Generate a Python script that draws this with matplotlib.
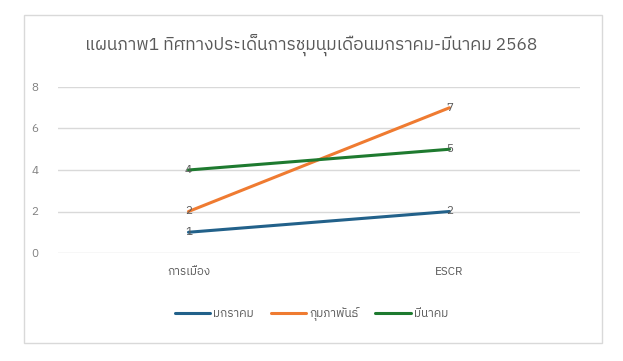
import matplotlib
matplotlib.use("Agg")
import matplotlib.pyplot as plt
from matplotlib import font_manager
from matplotlib.ft2font import FT2Font
from matplotlib.patches import Rectangle

# ---- data ----
categories = ["การเมือง", "ESCR"]
series_names = ["มกราคม", "กุมภาพันธ์", "มีนาคม"]
jan = [1, 2]
feb = [2, 7]
mar = [4, 5]
yticks = [0, 2, 4, 6, 8]
title = "แผนภาพ1 ทิศทางประเด็นการชุมนุมเดือนมกราคม-มีนาคม 2568"

# ---- find a font with Thai glyphs ----
thai_fams = []
for f in font_manager.fontManager.ttflist:
    try:
        cm = FT2Font(f.fname).get_charmap()
        if 0x0E01 in cm and 0x0E21 in cm:
            if f.name not in thai_fams:
                thai_fams.append(f.name)
    except Exception:
        pass
pref = [n for n in thai_fams if "Thai" in n] + [n for n in thai_fams if "Thai" not in n]
plt.rcParams['font.family'] = pref[:1] + ['DejaVu Sans']

gray = "#595959"
light = "#808080"
colors = ["#22618a", "#ef7b31", "#1e7a2f"]

fig = plt.figure(figsize=(6.23, 3.61), dpi=100)
fig.patch.set_facecolor("white")
frame = Rectangle((24/623, 1-343/361), (602-24)/623, (343-15)/361,
                  transform=fig.transFigure, facecolor="none",
                  edgecolor="#d9d9d9", linewidth=1, zorder=-5)
fig.patches.append(frame)

ax = fig.add_axes([58/623, 1-253/361, (580-58)/623, (253-87)/361])
ax.patch.set_alpha(0)
ax.set_xlim(-0.5, 1.5)
ax.set_ylim(0, 8)
ax.set_yticks(yticks)
ax.set_yticklabels([str(v) for v in yticks])
ax.set_xticks(range(len(categories)))
ax.set_xticklabels(categories)
for s in ax.spines.values():
    s.set_visible(False)
ax.grid(axis='y', color="#d9d9d9", linewidth=1)
ax.set_axisbelow(True)
ax.tick_params(axis='both', length=0, colors=gray, labelsize=8.5)
ax.tick_params(axis='y', pad=14, labelcolor=light)
ax.tick_params(axis='x', pad=10)

x = list(range(len(categories)))
for vals, name, c in zip([jan, feb, mar], series_names, colors):
    ax.plot(x, vals, color=c, linewidth=2.2, label=name, solid_capstyle='round')
    for xi, v in zip(x, vals):
        ax.text(xi, v, str(v), ha='center', va='center', color=gray, fontsize=8.5)

fig.text(0.5, 1-45/361, title, ha='center', va='center', color=gray, fontsize=12.5)

leg = fig.legend(loc='center', bbox_to_anchor=(0.5, 1-314/361), ncol=3,
                 frameon=False, fontsize=8.5, handlelength=3, columnspacing=1.4,
                 handletextpad=0.3)
for t in leg.get_texts():
    t.set_color(gray)

fig.savefig("out.png", dpi=100, facecolor="white")
